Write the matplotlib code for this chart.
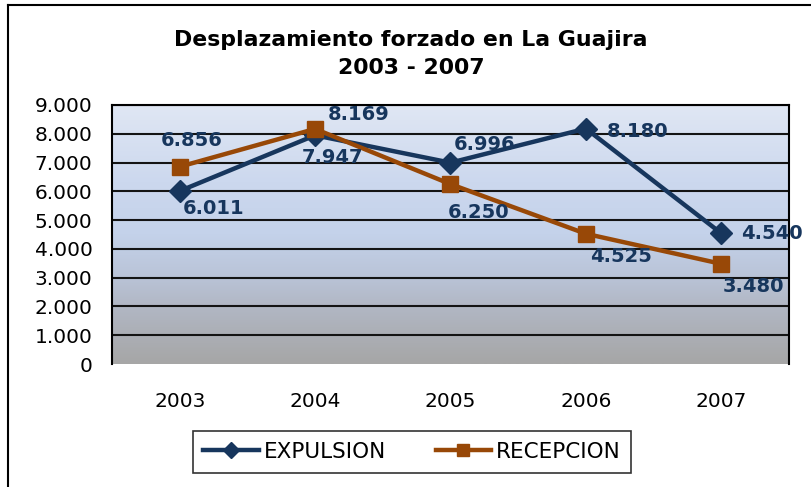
import numpy as np
import matplotlib
matplotlib.use("Agg")
import matplotlib.pyplot as plt
from matplotlib.colors import LinearSegmentedColormap
from matplotlib.lines import Line2D

years = ["2003", "2004", "2005", "2006", "2007"]
expulsion = [6011, 7947, 6996, 8180, 4540]
recepcion = [6856, 8169, 6250, 4525, 3480]
exp_labels = ["6.011", "7.947", "6.996", "8.180", "4.540"]
rec_labels = ["6.856", "8.169", "6.250", "4.525", "3.480"]
yticks = [0, 1000, 2000, 3000, 4000, 5000, 6000, 7000, 8000, 9000]
ytick_labels = ["0", "1.000", "2.000", "3.000", "4.000", "5.000", "6.000", "7.000", "8.000", "9.000"]

W, H = 812, 487
fig = plt.figure(figsize=(W / 100, H / 100), dpi=100)
fig.patch.set_facecolor("white")

L, R, T, B = 112, 789, 105, 364
ax = fig.add_axes([L / W, 1 - B / H, (R - L) / W, (B - T) / H])

x = np.arange(len(years))
ax.set_xlim(-0.5, len(years) - 0.5)
ax.set_ylim(0, 9000)

# gradient background
cmap = LinearSegmentedColormap.from_list(
    "bg",
    [(0.0, "#a6a6a6"), (0.22, "#b1b7c4"), (0.34, "#bac4d8"),
     (0.5, "#c4d2ea"), (0.7, "#ccd8ee"), (1.0, "#e0e7f4")])
grad = np.linspace(0, 1, 256).reshape(-1, 1)
ax.imshow(grad, cmap=cmap, origin="lower", aspect="auto",
          extent=[-0.5, len(years) - 0.5, 0, 9000], zorder=0)

for yv in yticks[1:]:
    ax.axhline(yv, color="#141414", lw=1.5, zorder=1)

navy = "#17365d"
brown = "#984807"
ax.plot(x, expulsion, color=navy, lw=3.2, marker="D", markersize=11,
        label="EXPULSION", zorder=3, clip_on=False)
ax.plot(x, recepcion, color=brown, lw=3.2, marker="s", markersize=12,
        label="RECEPCION", zorder=4, clip_on=False)

exp_off = [(34, -17), (17, -22), (34, 18), (52, -3), (51, 0)]
rec_off = [(12, 26), (44, 14), (28, -28), (35, -23), (32, -23)]
for i in range(len(years)):
    ax.annotate(exp_labels[i], (x[i], expulsion[i]), xytext=exp_off[i],
                textcoords="offset pixels", ha="center", va="center",
                fontsize=14, fontweight="bold", color=navy, zorder=5,
                annotation_clip=False)
    ax.annotate(rec_labels[i], (x[i], recepcion[i]), xytext=rec_off[i],
                textcoords="offset pixels", ha="center", va="center",
                fontsize=14, fontweight="bold", color=navy, zorder=5,
                annotation_clip=False)

ax.set_xticks(x)
ax.set_xticklabels(years, fontsize=14.5)
ax.set_yticks(yticks)
ax.set_yticklabels(ytick_labels, fontsize=14.5)
ax.tick_params(axis="both", length=0)
ax.tick_params(axis="y", pad=14)
ax.tick_params(axis="x", pad=20)

for s in ["left", "right", "top"]:
    ax.spines[s].set_color("black")
    ax.spines[s].set_linewidth(1.5)
ax.spines["bottom"].set_visible(False)

fig.text(411 / W, 1 - 54 / H, "Desplazamiento forzado en La Guajira\n2003 - 2007",
         ha="center", va="center", fontsize=15.8, fontweight="bold",
         linespacing=1.45)

leg = fig.legend(loc="center", bbox_to_anchor=(412 / W, 1 - 452 / H),
                 ncol=2, fontsize=15.5, frameon=True, fancybox=False,
                 edgecolor="black", handlelength=2.6, columnspacing=2.3,
                 borderpad=0.5, handletextpad=0.2, borderaxespad=0)
leg.get_frame().set_linewidth(1.2)
for h in leg.legend_handles:
    h.set_markersize(8)

# outer chart border (left and top)
fig.add_artist(Line2D([8 / W, 8 / W], [0, 1 - 5 / H], transform=fig.transFigure,
                      color="black", lw=1.5))
fig.add_artist(Line2D([8 / W, 1], [1 - 5 / H, 1 - 5 / H], transform=fig.transFigure,
                      color="black", lw=1.5))

fig.savefig("out.png", dpi=100)
